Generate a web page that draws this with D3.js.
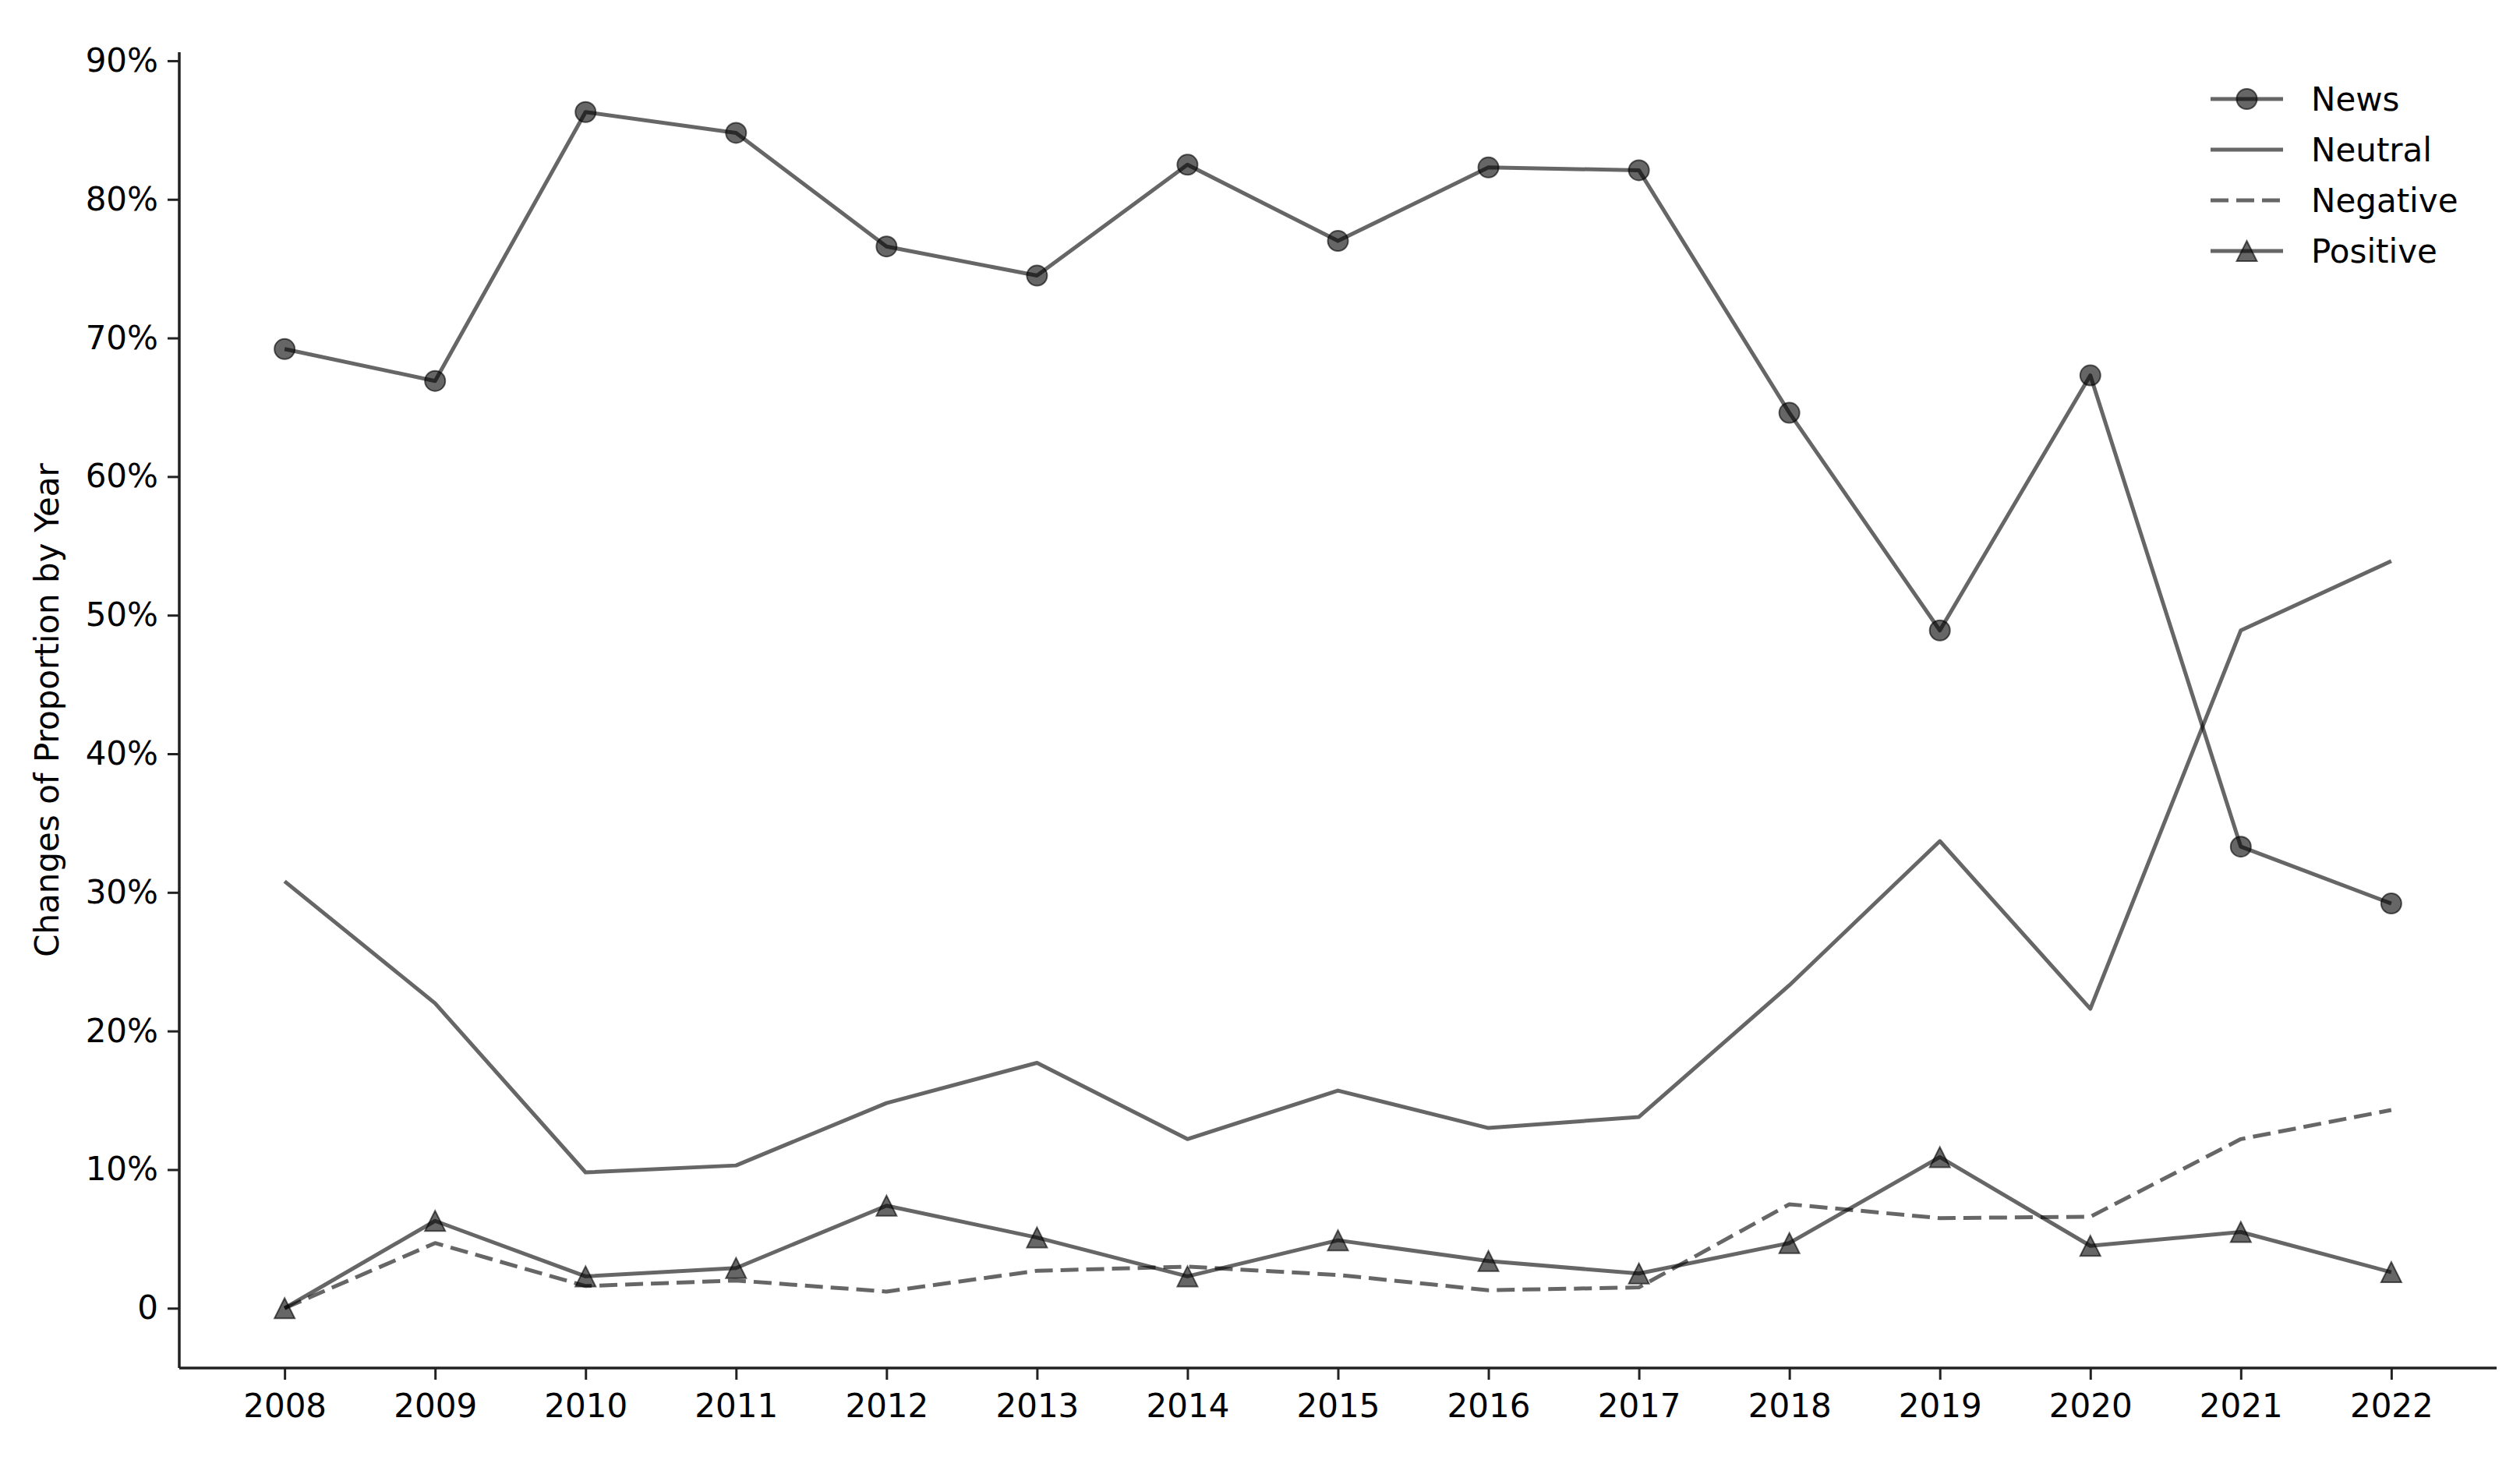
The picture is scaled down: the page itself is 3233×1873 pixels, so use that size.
<!DOCTYPE html>
<html>
<head>
<meta charset="utf-8">
<script src="https://cdn.jsdelivr.net/npm/d3@7"></script>
<style>
  body { margin: 0; background: #fff; }
  text { font-family: "DejaVu Sans", sans-serif; fill: #000; }
</style>
</head>
<body>
<div id="chart"></div>
<script>
// values, in percent
var years = [2008, 2009, 2010, 2011, 2012, 2013, 2014, 2015, 2016, 2017, 2018, 2019, 2020, 2021, 2022];
var news = [69.2, 66.9, 86.3, 84.8, 76.6, 74.5, 82.5, 77.0, 82.3, 82.1, 64.6, 48.9, 67.3, 33.3, 29.2];
var neutral = [30.8, 22.0, 9.8, 10.3, 14.8, 17.7, 12.2, 15.7, 13.0, 13.8, 23.3, 33.7, 21.6, 48.9, 53.9];
var negative = [0, 4.7, 1.6, 2.0, 1.2, 2.7, 3.0, 2.4, 1.3, 1.5, 7.5, 6.5, 6.6, 12.2, 14.3];
var positive = [0, 6.3, 2.3, 2.9, 7.4, 5.1, 2.3, 4.9, 3.4, 2.5, 4.7, 10.9, 4.5, 5.5, 2.6];
var yTicks = [0, 10, 20, 30, 40, 50, 60, 70, 80, 90];
var seriesNames = ["News", "Neutral", "Negative", "Positive"];

var W = 3233, H = 1873;
// plot box (note: "top" is taken by window.top, so use other names)
var plotL = 230, plotR = 3203, plotT = 67, plotB = 1755;
var lineColor = "rgba(0,0,0,0.6)";
var lw = 5, fs = 42;

var svg = d3.select("#chart").append("svg")
  .attr("width", W)
  .attr("height", H);

// matplotlib-like 5% margins on both axes
var xPad = (years[years.length - 1] - years[0]) * 0.05;
var x = d3.scaleLinear()
  .domain([years[0] - xPad, years[years.length - 1] + xPad])
  .range([plotL, plotR]);

var yMax = d3.max(news);
var y = d3.scaleLinear()
  .domain([-yMax * 0.05, yMax * 1.05])
  .range([plotB, plotT]);

// axes
var xAxis = d3.axisBottom(x)
  .tickValues(years)
  .tickFormat(d3.format("d"))
  .tickSize(15)
  .tickPadding(18);
var yAxis = d3.axisLeft(y)
  .tickValues(yTicks)
  .tickFormat(function (d) { return d === 0 ? "0" : d + "%"; })
  .tickSize(15)
  .tickPadding(12);

var gx = svg.append("g")
  .attr("transform", "translate(0," + plotB + ")")
  .call(xAxis);
var gy = svg.append("g")
  .attr("transform", "translate(" + plotL + ",0)")
  .call(yAxis);

[gx, gy].forEach(function (g) {
  g.select(".domain").attr("stroke", "#222").attr("stroke-width", 3.5);
  g.selectAll(".tick line").attr("stroke", "#222").attr("stroke-width", 3);
  g.selectAll(".tick text")
    .attr("font-size", fs)
    .attr("font-family", "DejaVu Sans")
    .attr("fill", "#000");
});
// d3 draws the domain path with end ticks; keep the spine plain
gx.select(".domain").attr("d", "M" + plotL + ",0H" + plotR);
gy.select(".domain").attr("d", "M0," + (plotB - plotB) + "M0," + (plotB - 0) + "V" + plotT);

svg.append("text")
  .attr("transform", "translate(75," + (plotT + plotB) / 2 + ") rotate(-90)")
  .attr("text-anchor", "middle")
  .attr("font-size", fs)
  .text("Changes of Proportion by Year");

// lines
var line = d3.line()
  .x(function (d, i) { return x(years[i]); })
  .y(function (d) { return y(d); });

function drawLine(values, dash) {
  svg.append("path")
    .datum(values)
    .attr("fill", "none")
    .attr("stroke", lineColor)
    .attr("stroke-width", lw)
    .attr("stroke-linejoin", "round")
    .attr("stroke-dasharray", dash || null)
    .attr("d", line);
}

function triPath(s) {
  // matplotlib "^" : box-centered triangle, width == height
  return "M0," + (-s) + "L" + s + "," + s + "L" + (-s) + "," + s + "Z";
}

function drawCircles(values) {
  svg.append("g").selectAll("circle")
    .data(values)
    .enter()
    .append("circle")
    .attr("cx", function (d, i) { return x(years[i]); })
    .attr("cy", function (d) { return y(d); })
    .attr("r", 13)
    .attr("fill", lineColor)
    .attr("stroke", lineColor)
    .attr("stroke-width", 2);
}

function drawTriangles(values) {
  svg.append("g").selectAll("path")
    .data(values)
    .enter()
    .append("path")
    .attr("transform", function (d, i) {
      return "translate(" + x(years[i]) + "," + y(d) + ")";
    })
    .attr("d", triPath(13))
    .attr("fill", lineColor)
    .attr("stroke", lineColor)
    .attr("stroke-width", 2);
}

drawLine(news);
drawCircles(news);
drawLine(neutral);
drawLine(negative, "23,10");
drawLine(positive);
drawTriangles(positive);

// legend
var legend = svg.append("g");
var lx0 = 2836, lx1 = 2929, ly0 = 127, rowH = 65;
seriesNames.forEach(function (name, i) {
  var cy = ly0 + i * rowH;
  var lineEl = legend.append("line")
    .attr("x1", lx0).attr("x2", lx1)
    .attr("y1", cy).attr("y2", cy)
    .attr("stroke", lineColor)
    .attr("stroke-width", lw);
  if (name === "Negative") lineEl.attr("stroke-dasharray", "23,10");
  var mx = (lx0 + lx1) / 2;
  if (name === "News") {
    legend.append("circle")
      .attr("cx", mx).attr("cy", cy).attr("r", 13)
      .attr("fill", lineColor).attr("stroke", lineColor).attr("stroke-width", 2);
  }
  if (name === "Positive") {
    legend.append("path")
      .attr("transform", "translate(" + mx + "," + cy + ")")
      .attr("d", triPath(13))
      .attr("fill", lineColor).attr("stroke", lineColor).attr("stroke-width", 2);
  }
  legend.append("text")
    .attr("x", 2965)
    .attr("y", cy + 15)
    .attr("font-size", fs)
    .text(name);
});
</script>
</body>
</html>
